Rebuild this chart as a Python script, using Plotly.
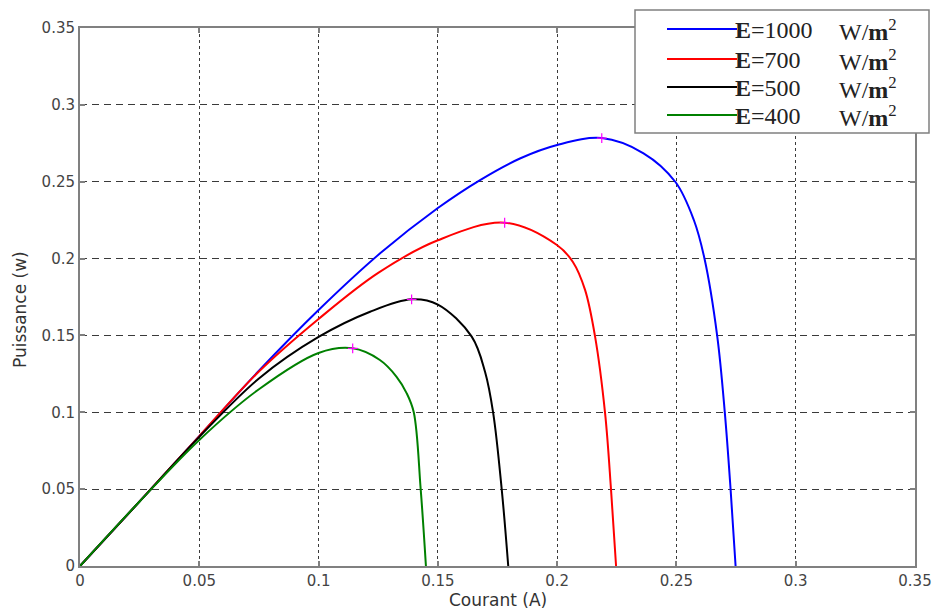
import plotly.graph_objects as go

# ---- data ----
irradiance = [1000, 700, 500, 400]
colors = ["#0000FF", "#FF0000", "#000000", "#008000"]

i_1000 = [0, 0.025, 0.05, 0.075, 0.1, 0.1258, 0.15, 0.1677, 0.1844, 0.2, 0.2187,
          0.2362, 0.2496, 0.2573, 0.2618, 0.2671, 0.2703, 0.2727, 0.2748]
p_1000 = [0, 0.042, 0.0845, 0.127, 0.1665, 0.2034, 0.2329, 0.2511, 0.2651, 0.2739, 0.2784,
          0.2685, 0.2498, 0.2251, 0.1997, 0.1496, 0.0995, 0.05, 0]

i_700 = [0, 0.025, 0.05, 0.075, 0.1, 0.125, 0.15, 0.178, 0.1999,
         0.2066, 0.2117, 0.2159, 0.2201, 0.2226, 0.2247]
p_700 = [0, 0.042, 0.0845, 0.1265, 0.1607, 0.1907, 0.2119, 0.2233, 0.2088,
         0.1978, 0.1796, 0.1492, 0.0993, 0.0494, 0]

i_500 = [0, 0.025, 0.05, 0.075, 0.1, 0.1216, 0.139, 0.15, 0.1642, 0.1698, 0.1732,
         0.1768, 0.1795]
p_500 = [0, 0.042, 0.084, 0.122, 0.149, 0.1654, 0.1735, 0.1701, 0.1492, 0.1262, 0.0995,
         0.0494, 0]

i_400 = [0, 0.025, 0.05, 0.075, 0.1, 0.1143, 0.1257, 0.1327, 0.1369, 0.1399, 0.1428, 0.145]
p_400 = [0, 0.042, 0.082, 0.115, 0.1386, 0.1416, 0.134, 0.1231, 0.1125, 0.1, 0.05, 0]

peak_i = [0.2187, 0.178, 0.139, 0.1143]
peak_p = [0.2784, 0.2233, 0.1735, 0.1416]

x_ticks = [0, 0.05, 0.1, 0.15, 0.2, 0.25, 0.3, 0.35]
y_ticks = [0, 0.05, 0.1, 0.15, 0.2, 0.25, 0.3, 0.35]

currents = [i_1000, i_700, i_500, i_400]
powers = [p_1000, p_700, p_500, p_400]

# ---- figure ----
W, H = 933, 612
L, R, T, B = 80, 915, 28, 566

fig = go.Figure()
for xs, ys, c in zip(currents, powers, colors):
    fig.add_trace(go.Scatter(x=xs, y=ys, mode="lines",
                             line=dict(color=c, width=2, shape="spline", smoothing=1.0,
                                       simplify=False),
                             showlegend=False, hoverinfo="skip"))
fig.add_trace(go.Scatter(x=peak_i, y=peak_p, mode="markers",
                         marker=dict(symbol="cross-thin", size=7,
                                     line=dict(color="#FF00FF", width=1.2)),
                         showlegend=False, hoverinfo="skip"))

def px(xpix):
    return (xpix - L) / (R - L)

def py(ypix):
    return (B - ypix) / (B - T)

shapes = []
annotations = []
# legend box
shapes.append(dict(type="rect", xref="paper", yref="paper",
                   x0=px(635), x1=px(929), y0=py(133), y1=py(10),
                   fillcolor="white", line=dict(color="#808080", width=1.5), layer="above"))
row_y = [29, 59, 87, 115]
for e, c, ry in zip(irradiance, colors, row_y):
    shapes.append(dict(type="line", xref="paper", yref="paper",
                       x0=px(667), x1=px(737), y0=py(ry), y1=py(ry),
                       line=dict(color=c, width=2), layer="above"))
    annotations.append(dict(xref="paper", yref="paper", x=px(733), y=py(ry + 1),
                            xanchor="left", yanchor="middle", showarrow=False,
                            text="<b>E</b>=%d" % e,
                            font=dict(family="Liberation Serif", size=24, color="#222")))
    annotations.append(dict(xref="paper", yref="paper", x=px(837), y=py(ry + 1),
                            xanchor="left", yanchor="middle", showarrow=False,
                            text="W/<b>m</b><sup>2</sup>",
                            font=dict(family="Liberation Serif", size=24, color="#222")))

annotations.append(dict(xref="paper", yref="paper", x=0.5, y=py(600),
                        xanchor="center", yanchor="middle", showarrow=False,
                        text="Courant (A)",
                        font=dict(family="DejaVu Sans", size=17, color="#333")))
annotations.append(dict(xref="paper", yref="paper", x=px(20), y=py(310),
                        xanchor="center", yanchor="middle", showarrow=False,
                        text="Puissance (w)", textangle=-90,
                        font=dict(family="DejaVu Sans", size=17, color="#333")))

axis_common = dict(showline=True, linecolor="#808080", linewidth=2, mirror="ticks",
                   ticks="inside", ticklen=5, tickcolor="#808080", tickwidth=1.5,
                   zeroline=False, showgrid=True, gridcolor="#3a3a3a", gridwidth=1,
                   automargin=False,
                   tickfont=dict(family="DejaVu Sans", size=15, color="#444"))

fig.update_layout(
    width=W, height=H,
    margin=dict(l=L, r=W - R, t=T, b=H - B),
    paper_bgcolor="white", plot_bgcolor="white",
    xaxis=dict(range=[0, 0.35], tickvals=x_ticks, ticktext=[("%g" % v) for v in x_ticks],
               griddash="3px,3px", **axis_common),
    yaxis=dict(range=[0, 0.35], tickvals=y_ticks, ticktext=[("%g" % v) for v in y_ticks],
               griddash="7px,5px", **axis_common),
    shapes=shapes, annotations=annotations,
)

fig.write_html("out.html")
